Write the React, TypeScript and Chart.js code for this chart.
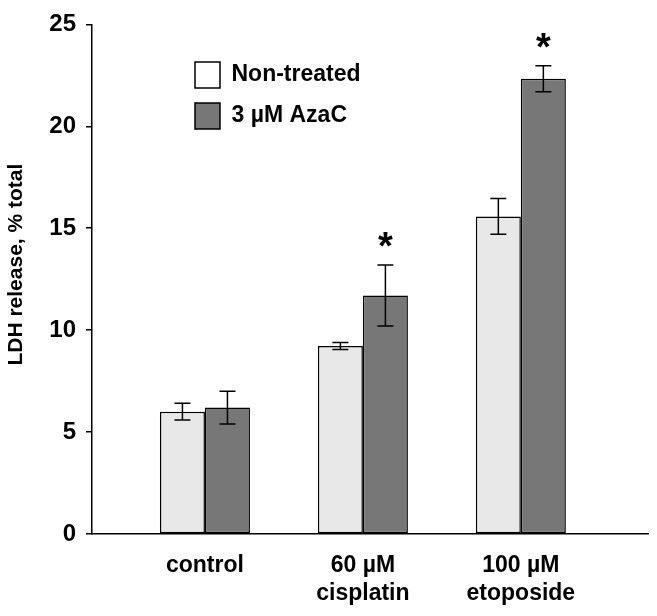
import React, { useEffect, useRef } from 'react';
import { Chart, registerables } from 'chart.js';

Chart.register(...registerables);

// ---- data ----
const categories: string[][] = [['control'], ['60 µM', 'cisplatin'], ['100 µM', 'etoposide']];
const categoryPositions = [1, 2, 3];
const seriesNames = ['Non-treated', '3 µM AzaC'];
const nonTreated = [6.0, 9.22, 15.58];
const nonTreatedErr = [0.41, 0.17, 0.88];
const azac = [6.2, 11.7, 22.33];
const azacErr = [0.8, 1.5, 0.64];
const nonTreatedSig = [false, false, false];
const azacSig = [false, true, true];
const yTickValues = [0, 5, 10, 15, 20, 25];
const yTitle = 'LDH release, % total';

const values = [nonTreated, azac];
const errors = [nonTreatedErr, azacErr];
const significance = [nonTreatedSig, azacSig];

const FONT = "'Liberation Sans', Arial, Helvetica, sans-serif";

const errorBarPlugin = {
  id: 'errorBars',
  afterDatasetsDraw(chart: any) {
    const ctx = chart.ctx;
    const yScale = chart.scales.y;
    ctx.save();
    chart.data.datasets.forEach((_ds: any, di: number) => {
      const meta = chart.getDatasetMeta(di);
      meta.data.forEach((bar: any, i: number) => {
        const v = values[di][i];
        const e = errors[di][i];
        const x = bar.x;
        const yTop = yScale.getPixelForValue(v + e);
        const yBot = yScale.getPixelForValue(v - e);
        ctx.strokeStyle = '#000';
        ctx.lineWidth = 1.5;
        ctx.beginPath();
        ctx.moveTo(x, yTop);
        ctx.lineTo(x, yBot);
        ctx.moveTo(x - 8, yTop);
        ctx.lineTo(x + 8, yTop);
        ctx.moveTo(x - 8, yBot);
        ctx.lineTo(x + 8, yBot);
        ctx.stroke();
        if (significance[di][i]) {
          ctx.fillStyle = '#000';
          ctx.font = `bold 38px ${FONT}`;
          ctx.textAlign = 'center';
          ctx.textBaseline = 'alphabetic';
          ctx.fillText('*', x, yTop - 6);
        }
      });
    });
    ctx.restore();
  },
};

const legendPlacePlugin = {
  id: 'legendPlace',
  afterLayout(chart: any) {
    const lg = chart.legend;
    if (!lg) return;
    const w = lg.width, h = lg.height;
    lg.left = 180;
    lg.top = 47;
    lg.right = lg.left + w;
    lg.bottom = lg.top + h;
  },
};

export default function App() {
  const ref = useRef<HTMLCanvasElement | null>(null);
  useEffect(() => {
    if (!ref.current) return;
    const chart = new Chart(ref.current, {
      type: 'bar',
      data: {
        datasets: [
          {
            label: seriesNames[0],
            data: categoryPositions.map((x, i) => ({ x, y: nonTreated[i] })),
            backgroundColor: '#e8e8e8',
            borderColor: '#000',
            borderWidth: 1.5,
            borderSkipped: false,
          },
          {
            label: seriesNames[1],
            data: categoryPositions.map((x, i) => ({ x, y: azac[i] })),
            backgroundColor: '#777777',
            borderColor: '#000',
            borderWidth: 1.5,
            borderSkipped: false,
          },
        ],
      },
      options: {
        animation: false,
        responsive: true,
        maintainAspectRatio: false,
        layout: { padding: { top: 17, right: 9, left: 0, bottom: 0 } },
        datasets: { bar: { barPercentage: 1, categoryPercentage: 0.57 } },
        plugins: {
          tooltip: { enabled: false },
          legend: {
            display: true,
            position: 'chartArea',
            align: 'start',
            labels: {
              boxWidth: 25,
              boxHeight: 26,
              padding: 15,
              color: '#000',
              font: { family: FONT, size: 23, weight: 'bold' },
              generateLabels(chart: any) {
                const items = Chart.defaults.plugins.legend.labels.generateLabels(chart);
                return items.map((it: any, idx: number) => ({
                  ...it,
                  fillStyle: idx === 0 ? '#ffffff' : it.fillStyle,
                  strokeStyle: '#000',
                  lineWidth: 1.5,
                }));
              },
            },
          },
        },
        scales: {
          x: {
            type: 'linear',
            min: 0.285,
            max: 3.805,
            offset: false,
            grid: { display: false, drawTicks: false },
            border: { display: true, color: '#000', width: 1.5 },
            afterBuildTicks(scale: any) {
              scale.ticks = categoryPositions.map((v) => ({ value: v }));
            },
            afterFit(scale: any) {
              scale.height = 82;
            },
            ticks: {
              autoSkip: false,
              maxRotation: 0,
              minRotation: 0,
              padding: 18,
              color: '#000',
              font: { family: FONT, size: 23, weight: 'bold', lineHeight: 1.22 },
              callback(value: any) {
                const idx = categoryPositions.indexOf(Number(value));
                return idx >= 0 ? categories[idx] : '';
              },
            },
          },
          y: {
            min: 0,
            max: 25,
            afterBuildTicks(scale: any) {
              scale.ticks = yTickValues.map((v) => ({ value: v }));
            },
            afterFit(scale: any) {
              scale.width = 92;
            },
            grid: {
              display: true,
              drawOnChartArea: false,
              drawTicks: true,
              tickLength: 6,
              color: '#000',
              lineWidth: 1.5,
            },
            border: { display: true, color: '#000', width: 1.5 },
            ticks: {
              padding: 10,
              color: '#000',
              font: { family: FONT, size: 24, weight: 'bold' },
            },
            title: {
              display: true,
              text: '     ' + yTitle,
              color: '#000',
              padding: { top: 4, bottom: 0 },
              font: { family: FONT, size: 21, weight: 'bold' },
            },
          },
        },
      },
      plugins: [errorBarPlugin, legendPlacePlugin],
    } as any);
    return () => chart.destroy();
  }, []);
  return (
    <div style={{ position: 'fixed', left: 0, top: 0, width: 657, height: 616, background: '#fff' }}>
      <canvas ref={ref} />
    </div>
  );
}
